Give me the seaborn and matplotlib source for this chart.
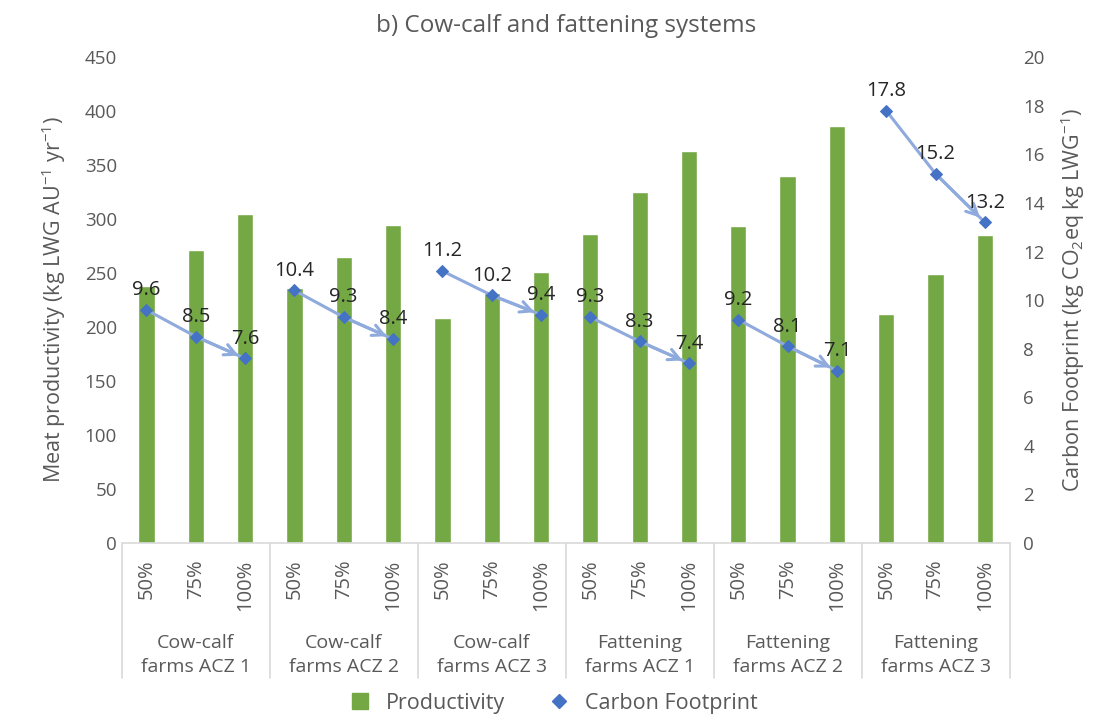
import pandas as pd
import numpy as np
import matplotlib.pyplot as plt
import matplotlib.transforms as mtransforms
from matplotlib.lines import Line2D
import seaborn as sns

# Values
groups = ['Cow-calf\nfarms ACZ 1', 'Cow-calf\nfarms ACZ 2', 'Cow-calf\nfarms ACZ 3',
          'Fattening\nfarms ACZ 1', 'Fattening\nfarms ACZ 2', 'Fattening\nfarms ACZ 3']
levels = ['50%', '75%', '100%']
productivity = [238, 271, 305,
                236, 265, 295,
                208, 232, 251,
                286, 325, 363,
                294, 340, 386,
                212, 249, 285]
carbon_footprint = [9.6, 8.5, 7.6,
                    10.4, 9.3, 8.4,
                    11.2, 10.2, 9.4,
                    9.3, 8.3, 7.4,
                    9.2, 8.1, 7.1,
                    17.8, 15.2, 13.2]

green = '#74A845'
line_col = '#8FAADC'
marker_col = '#4472C4'
grey_txt = '#595959'
axis_col = '#D9D9D9'

df = pd.DataFrame({
    'group': np.repeat(groups, len(levels)),
    'level': levels * len(groups),
    'Productivity': productivity,
    'CF': carbon_footprint,
})
df['bar'] = df['group'] + '|' + df['level']
df['pos'] = np.arange(len(df))

sns.set_style('white')
plt.rcParams['font.family'] = ['Open Sans', 'DejaVu Sans']

fig = plt.figure(figsize=(11.07, 7.16), dpi=100)
ax = fig.add_axes([0.110, 0.2416, 0.802, 0.6784])

sns.barplot(data=df, x='bar', y='Productivity', order=df['bar'], color=green,
            saturation=1, width=0.33, ax=ax)
ax.set_xlim(-0.5, len(df) - 0.5)
ax.set_ylim(0, 450)
ax.set_yticks(range(0, 451, 50))
ax.set_xticks(df['pos'])
ax.set_xticklabels(df['level'], rotation=90, fontsize=14.5, color=grey_txt)
ax.tick_params(axis='y', length=0, colors=grey_txt, labelsize=13.5)
ax.tick_params(axis='x', length=0, colors=grey_txt, pad=12)
ax.set_xlabel('')
ax.set_ylabel(r'Meat productivity (kg LWG AU$^{\mathregular{-1}}$ yr$^{\mathregular{-1}}$)',
              fontsize=15.5, color=grey_txt, labelpad=12)
for s in ax.spines.values():
    s.set_visible(False)

# multi-level category axis
trans = mtransforms.blended_transform_factory(ax.transData, ax.transAxes)
ax.plot([-0.5, len(df) - 0.5], [0, 0], transform=trans, color=axis_col, lw=1.2, clip_on=False)
for b in np.arange(-0.5, len(df), len(levels)):
    ax.plot([b, b], [0, -0.278], transform=trans, color=axis_col, lw=1.2, clip_on=False)
for i, g in enumerate(groups):
    ax.text(i * len(levels) + 1, -0.23, g, transform=trans, ha='center', va='center',
            fontsize=14, color=grey_txt, linespacing=1.45)

# carbon footprint on secondary axis
ax2 = ax.twinx()
for g in groups:
    sub = df[df['group'] == g]
    sns.lineplot(x=sub['pos'], y=sub['CF'], ax=ax2, color=line_col, lw=2.2,
                 marker='D', markersize=6.5, markerfacecolor=marker_col,
                 markeredgecolor=marker_col, legend=False, zorder=3)
    xs, ys = sub['pos'].values, sub['CF'].values
    ax2.annotate('', xy=(xs[-1], ys[-1]), xytext=(xs[-2], ys[-2]),
                 arrowprops=dict(arrowstyle='->', color=line_col, lw=2.2,
                                 shrinkA=0, shrinkB=5, mutation_scale=20), zorder=2)
    for x, y in zip(xs, ys):
        ax2.annotate(f'{y:.1f}', (x, y), xytext=(0, 7), textcoords='offset points',
                     ha='center', va='bottom', fontsize=14.5, color='#262626')
ax2.set_ylim(0, 20)
ax2.set_yticks(range(0, 21, 2))
ax2.tick_params(axis='y', length=0, colors=grey_txt, labelsize=13.5, pad=10)
ax2.set_xlabel('')
ax2.set_ylabel(r'Carbon Footprint (kg CO$_{\mathregular{2}}$eq kg LWG$^{\mathregular{ -1}}$)',
               fontsize=15.5, color=grey_txt, labelpad=10)
for s in ax2.spines.values():
    s.set_visible(False)

ax.set_title('b) Cow-calf and fattening systems', fontsize=17.5, color=grey_txt, pad=18)

handles = [Line2D([], [], ls='none', marker='s', markersize=11, color=green, label='Productivity'),
           Line2D([], [], ls='none', marker='D', markersize=7, color=marker_col, label='Carbon Footprint')]
fig.legend(handles=handles, loc='center', bbox_to_anchor=(0.495, 0.018), ncol=2, frameon=False,
           fontsize=15.5, handletextpad=0.2, columnspacing=1.5, labelcolor=grey_txt)

fig.savefig('out.png', dpi=100)
